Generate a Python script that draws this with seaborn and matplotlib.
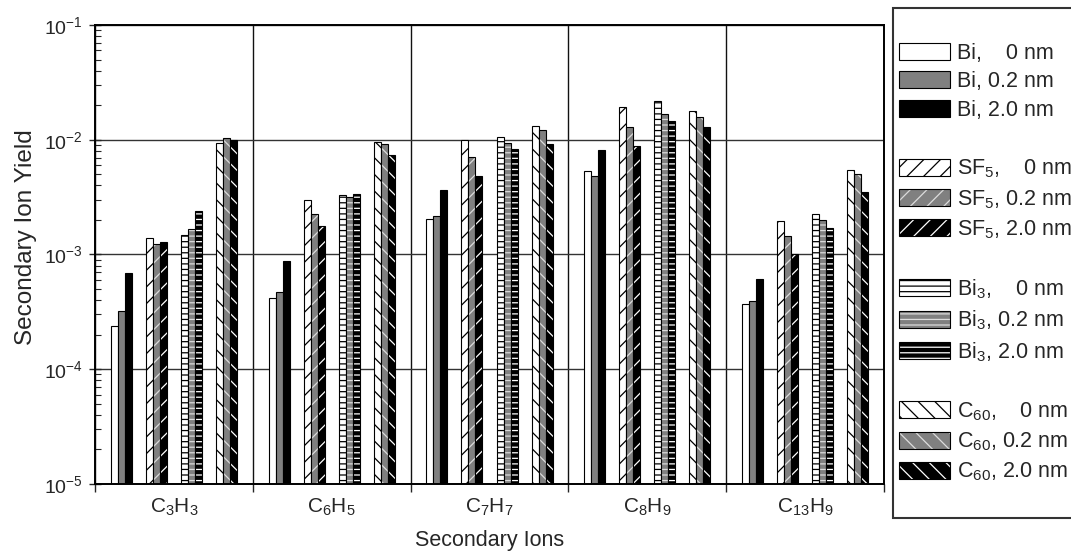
import numpy as np
import pandas as pd
import matplotlib
matplotlib.use("Agg")
import matplotlib.pyplot as plt
import seaborn as sns
from matplotlib.patches import Rectangle
from matplotlib.ticker import LogLocator, NullFormatter, FixedLocator

# ---------------- data ----------------
ions = ["C$_3$H$_3$", "C$_6$H$_5$", "C$_7$H$_7$", "C$_8$H$_9$", "C$_{13}$H$_9$"]

bi_0 = [2.4e-4, 4.2e-4, 2.05e-3, 5.35e-3, 3.7e-4]
bi_02 = [3.2e-4, 4.75e-4, 2.15e-3, 4.8e-3, 3.9e-4]
bi_20 = [6.9e-4, 8.8e-4, 3.65e-3, 8.15e-3, 6.15e-4]
sf5_0 = [1.38e-3, 2.99e-3, 9.96e-3, 1.94e-2, 1.95e-3]
sf5_02 = [1.23e-3, 2.27e-3, 7.1e-3, 1.28e-2, 1.46e-3]
sf5_20 = [1.28e-3, 1.77e-3, 4.86e-3, 8.85e-3, 1.02e-3]
bi3_0 = [1.49e-3, 3.28e-3, 1.05e-2, 2.19e-2, 2.24e-3]
bi3_02 = [1.67e-3, 3.15e-3, 9.45e-3, 1.67e-2, 2.0e-3]
bi3_20 = [2.41e-3, 3.39e-3, 8.35e-3, 1.46e-2, 1.71e-3]
c60_0 = [9.45e-3, 9.5e-3, 1.32e-2, 1.79e-2, 5.45e-3]
c60_02 = [1.04e-2, 9.1e-3, 1.22e-2, 1.58e-2, 5.05e-3]
c60_20 = [9.95e-3, 7.4e-3, 9.2e-3, 1.29e-2, 3.5e-3]

series_labels = [
    "Bi,    0 nm", "Bi, 0.2 nm", "Bi, 2.0 nm",
    "SF$_5$,    0 nm", "SF$_5$, 0.2 nm", "SF$_5$, 2.0 nm",
    "Bi$_3$,    0 nm", "Bi$_3$, 0.2 nm", "Bi$_3$, 2.0 nm",
    "C$_{60}$,    0 nm", "C$_{60}$, 0.2 nm", "C$_{60}$, 2.0 nm",
]
series_values = [bi_0, bi_02, bi_20, sf5_0, sf5_02, sf5_20,
                 bi3_0, bi3_02, bi3_20, c60_0, c60_02, c60_20]

# ---------------- style ----------------
sns.set_style("white")
plt.rcParams["font.family"] = ["Liberation Sans", "DejaVu Sans"]
plt.rcParams["mathtext.fontset"] = "custom"
plt.rcParams["mathtext.rm"] = "Liberation Sans"
plt.rcParams["mathtext.it"] = "Liberation Sans:italic"
plt.rcParams["mathtext.bf"] = "Liberation Sans:bold"
plt.rcParams["mathtext.default"] = "regular"
plt.rcParams["hatch.linewidth"] = 0.9

rows = []
for lab, vals in zip(series_labels, series_values):
    for ion, v in zip(ions, vals):
        rows.append({"ion": ion, "series": lab, "yield": v})
df = pd.DataFrame(rows)

# hue order with empty spacer slots between the four beam clusters
hue_order = (series_labels[0:3] + ["_gap1a", "_gap1b"] +
             series_labels[3:6] + ["_gap2a", "_gap2b"] +
             series_labels[6:9] + ["_gap3a", "_gap3b"] +
             series_labels[9:12])

fig = plt.figure(figsize=(10.71, 5.52), dpi=100)
ax = fig.add_axes([0.0887, 0.1232, 0.7367, 0.8315])
ax.set_yscale("log")

sns.barplot(data=df, x="ion", y="yield", hue="series", hue_order=hue_order,
            order=ions, width=0.8, gap=0, errorbar=None, legend=False,
            ax=ax, edgecolor="black", linewidth=0.8)

faces = ["white", "#808080", "black"]
hatch_cols = ["black", "#dcdcdc", "white"]
hatches = [None, "//", "---", "\\\\"]

containers = [c for c in ax.containers if len(c.patches) > 0]
handles = []
for i, cont in enumerate(containers):
    beam, dose = divmod(i, 3)
    for bar in cont.patches:
        bar.set_facecolor(faces[dose])
        bar.set_edgecolor("black")
        bar.set_linewidth(0.8)
        if hatches[beam]:
            bar.set_hatch(hatches[beam])
            if hasattr(bar, "set_hatchcolor"):
                bar.set_hatchcolor(hatch_cols[dose])
            else:
                bar._hatch_color = matplotlib.colors.to_rgba(hatch_cols[dose])
    handles.append(cont.patches[0])

ax.set_ylim(1e-5, 1e-1)
ax.set_xlim(-0.5, len(ions) - 0.5)

ax.yaxis.set_major_locator(LogLocator(base=10, numticks=10))
ax.yaxis.set_minor_locator(LogLocator(base=10, subs=np.arange(2, 10), numticks=20))
ax.yaxis.set_minor_formatter(NullFormatter())
ax.tick_params(axis="y", which="major", direction="inout", length=9, width=1,
               labelsize=14, pad=4, left=True)
ax.tick_params(axis="y", which="minor", direction="in", length=4, width=0.8, left=True)

ax.set_xticks(range(len(ions)))
ax.set_xticklabels(ions)
ax.xaxis.set_minor_locator(FixedLocator(np.arange(-0.5, len(ions), 1.0)))
ax.tick_params(axis="x", which="major", length=0, labelsize=15, pad=9)
ax.tick_params(axis="x", which="minor", direction="out", length=6, width=1, bottom=True)

ax.grid(False)
ax.yaxis.grid(True, which="major", color="#333333", linewidth=1)
ax.xaxis.grid(True, which="minor", color="#111111", linewidth=1)
ax.set_axisbelow(True)

for s in ax.spines.values():
    s.set_visible(True)
    s.set_color("black")
    s.set_linewidth(1.4)

ax.set_xlabel("Secondary Ions", fontsize=15.5)
ax.set_ylabel("Secondary Ion Yield", fontsize=17.5)
ax.xaxis.set_label_coords(0.5, -0.100)
ax.yaxis.set_label_coords(-0.074, 0.538)

# legend with blank separator rows
blank = Rectangle((0, 0), 1, 1, fill=False, edgecolor="none", linewidth=0)
leg_handles = [blank]
leg_labels = [""]
for g in range(4):
    leg_handles += handles[3 * g:3 * g + 3]
    leg_labels += series_labels[3 * g:3 * g + 3]
    leg_handles.append(blank)
    leg_labels.append("")

leg = fig.legend(leg_handles, leg_labels, loc="upper left",
                 bbox_to_anchor=(893 / 1071, 1 - 8 / 552),
                 bbox_transform=fig.transFigure, borderaxespad=0,
                 fontsize=15.5, frameon=True, fancybox=False, framealpha=1,
                 edgecolor="#333333", handlelength=2.37, handleheight=0.84,
                 handletextpad=0.33, labelspacing=0.36, borderpad=0.27)
leg.get_frame().set_linewidth(1.5)

fig.savefig("out.png", dpi=100)
